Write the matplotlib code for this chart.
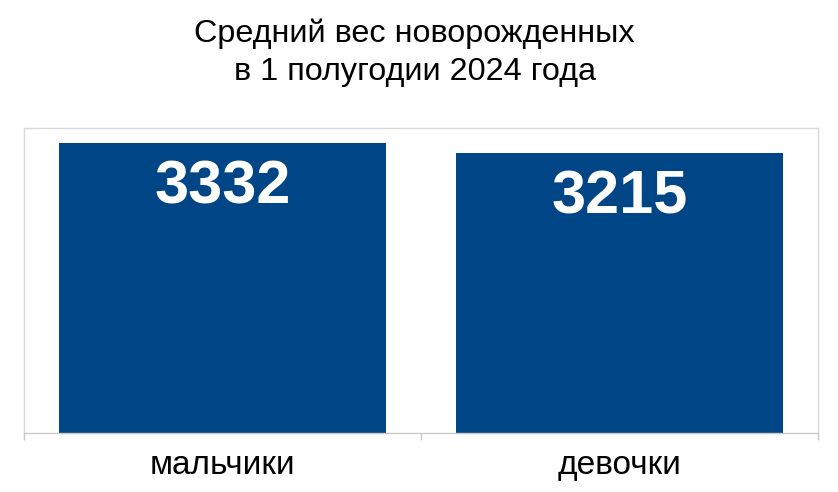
import matplotlib
matplotlib.use('Agg')
import matplotlib.pyplot as plt

plt.rcParams['font.family'] = ['Liberation Sans', 'DejaVu Sans']

# данные
categories = ['мальчики', 'девочки']
weights = [3332, 3215]
title = 'Средний вес новорожденных\nв 1 полугодии 2024 года'

bar_color = '#004586'
grid_color = '#c8c8c8'

fig = plt.figure(figsize=(8.38, 4.92), dpi=100)
ax = fig.add_axes([0.0286, 0.12, 0.9475, 0.62])

x = range(len(categories))
ax.bar(x, weights, width=0.826, color=bar_color)
ax.set_xlim(-0.5, len(categories) - 0.5)
ax.set_ylim(0, 3504)

# подписи значений внутри столбцов
for xi, w in zip(x, weights):
    ax.annotate(str(w), (xi, w), xytext=(0, -12), textcoords='offset points',
                ha='center', va='top', color='white', fontsize=44, fontweight='bold')

# рамка области построения
for side in ['left', 'top', 'right']:
    ax.spines[side].set_color('#d9d9d9')
    ax.spines[side].set_linewidth(1)
ax.spines['bottom'].set_color(grid_color)
ax.spines['bottom'].set_linewidth(1)

ax.set_yticks([])
ax.set_xticks([-0.5, 0.5, 1.5], minor=True)
ax.tick_params(axis='x', which='minor', length=5, color=grid_color, width=1)
ax.tick_params(axis='x', which='major', length=0, pad=12, labelsize=24)
ax.set_xticks(list(x))
ax.set_xticklabels(categories)

fig.text(0.495, 0.962, title, ha='center', va='top', fontsize=23.3, linespacing=1.32)

fig.savefig('out.png', dpi=100)
